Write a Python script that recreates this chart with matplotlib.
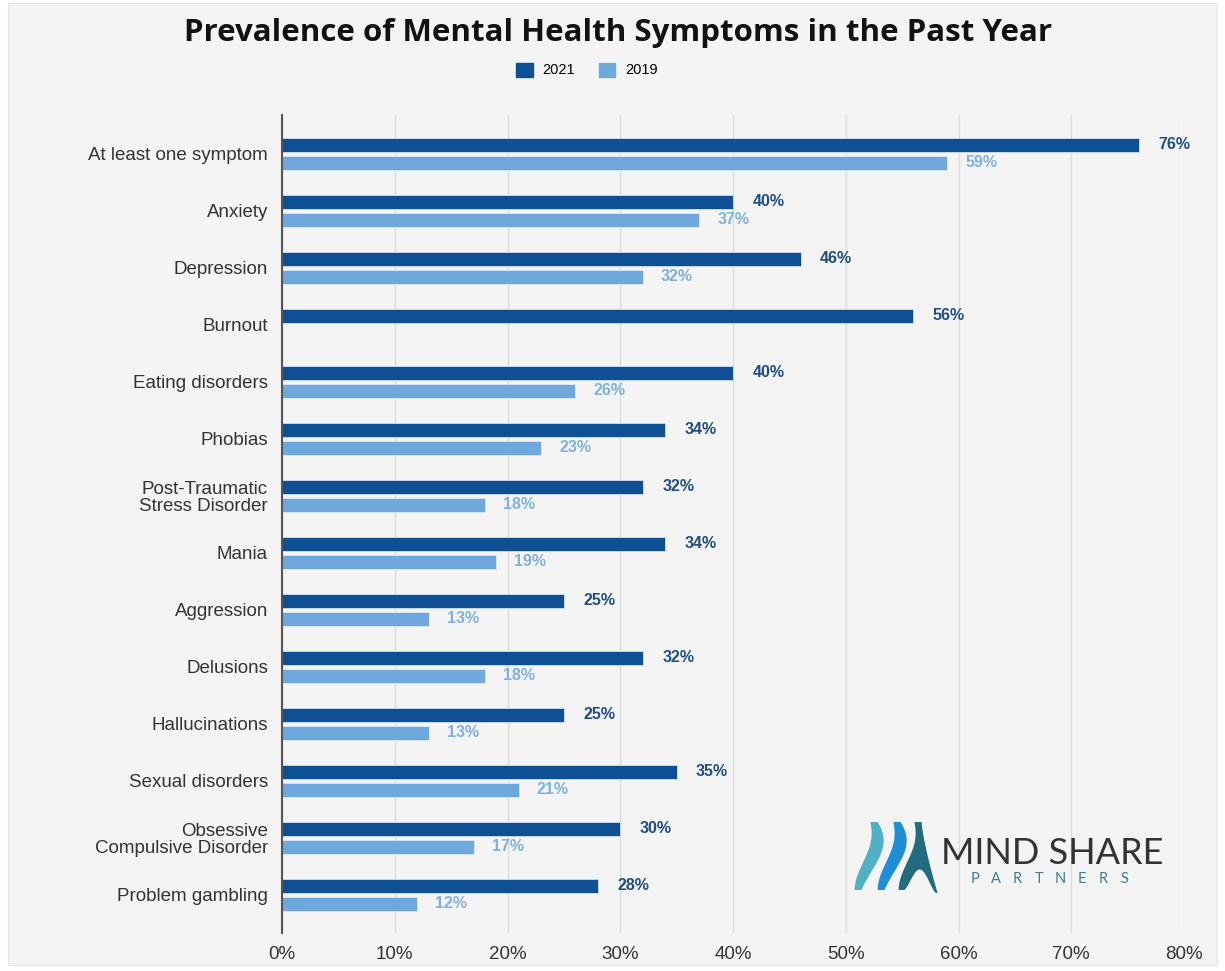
import numpy as np
import matplotlib.pyplot as plt
from matplotlib.patches import Rectangle, Polygon, Patch

categories = [
    "At least one symptom", "Anxiety", "Depression", "Burnout",
    "Eating disorders", "Phobias", "Post-Traumatic\nStress Disorder",
    "Mania", "Aggression", "Delusions", "Hallucinations",
    "Sexual disorders", "Obsessive\nCompulsive Disorder", "Problem gambling",
]
vals_2021 = [76, 40, 46, 56, 40, 34, 32, 34, 25, 32, 25, 35, 30, 28]
vals_2019 = [59, 37, 32, np.nan, 26, 23, 18, 19, 13, 18, 13, 21, 17, 12]
xticks = [0, 10, 20, 30, 40, 50, 60, 70, 80]

dark = "#0f4f93"
light = "#6fa8dc"
bg = "#f4f4f4"

W, H = 1225, 971
fig = plt.figure(figsize=(W / 100, H / 100), dpi=100, facecolor="white")
fig.patches.append(Rectangle((8 / W, 6 / H), 1209 / W, 962 / H, transform=fig.transFigure,
                             facecolor=bg, edgecolor="#e6e6e6", lw=0.8, zorder=-10))

ax = fig.add_axes([282 / W, 1 - 933 / H, 902 / W, 818 / H])
ax.set_facecolor(bg)

y = np.arange(len(categories))
bh = 0.25
off = 0.158
ax.barh(y - off, vals_2021, height=bh, color=dark, edgecolor="#cfe0f2", lw=0.6, label="2021", zorder=3)
ax.barh(y + off, vals_2019, height=bh, color=light, edgecolor="#d9e8f6", lw=0.6, label="2019", zorder=3)

for yi, v in zip(y, vals_2021):
    ax.annotate(f"{v:.0f}%", (v, yi - off), xytext=(14, 0), textcoords="offset points",
                va="center", ha="left", fontsize=11.5, fontweight="bold", color="#1f4e85",
                family="Liberation Sans")
for yi, v in zip(y, vals_2019):
    if np.isnan(v):
        continue
    ax.annotate(f"{v:.0f}%", (v, yi + off), xytext=(13, 0), textcoords="offset points",
                va="center", ha="left", fontsize=11.5, fontweight="bold", color="#7fb2e2",
                family="Liberation Sans")

ax.set_xlim(0, 80)
ax.set_ylim(len(categories) - 1 + 0.67, -0.68)
ax.set_xticks(xticks)
ax.set_xticklabels([f"{t}%" for t in xticks], fontsize=13.5, color="#333333", family="Liberation Sans")
ax.set_yticks(y)
ax.set_yticklabels(categories, fontsize=13.5, color="#333333", family="Liberation Sans",
                   linespacing=1.0)
ax.tick_params(axis="both", length=0)
ax.tick_params(axis="x", pad=9)
ax.tick_params(axis="y", pad=10)
ax.grid(axis="x", color="#dcdcdc", lw=1, zorder=0)
for s in ["top", "right", "bottom"]:
    ax.spines[s].set_visible(False)
ax.spines["left"].set_color("#555555")
ax.spines["left"].set_linewidth(1.5)
ax.spines["left"].set_zorder(4)

fig.text(618 / W, 1 - 33 / H, "Prevalence of Mental Health Symptoms in the Past Year",
         ha="center", va="center", fontsize=22.5, fontweight="bold", family="Open Sans", color="#111111")

handles = [Patch(color=dark, label="2021"), Patch(color=light, label="2019")]
fig.legend(handles=handles, loc="center", bbox_to_anchor=(587 / W, 1 - 70 / H), ncol=2,
           frameon=False, handlelength=1.1, handleheight=1.1,
           columnspacing=1.6, handletextpad=0.7, prop={"family": "Liberation Sans", "size": 10.5})

# logo in the lower right corner
lg = fig.add_axes([845 / W, 1 - 900 / H, 330 / W, 85 / H])
lg.set_xlim(845, 1175)
lg.set_ylim(900, 815)
lg.axis("off")

t = np.linspace(0, 1, 80)
yy = 822 + t * 68
profile = 3 + 11 * np.sin(np.pi * np.clip(t * 0.85 + 0.08, 0, 1)) ** 0.7
for x0, col in [(874, "#4fb0c6"), (897, "#1e8fd6")]:
    xc = x0 + 14 * np.sin(np.pi * t) * (1 - t) - 16 * t
    left = np.column_stack([xc - profile / 2, yy])
    right = np.column_stack([xc + profile / 2, yy])[::-1]
    lg.add_patch(Polygon(np.vstack([left, right]), closed=True, color=col, lw=0))

# third stroke flares into a tail at the bottom right
xc = 918 + 14 * np.sin(np.pi * t) * (1 - t) - 16 * t
left_edge = np.column_stack([xc - profile / 2, yy])
s = np.linspace(0, 1, 40)
right_edge = np.column_stack([xc[0] + profile[0] / 2 + 16 * s ** 1.3, 822 + 71 * s])
notch = np.column_stack([936 - 32 * s, 893 - 22 * np.sin(np.pi * s) ** 1.5 - 3 * s])
shape = np.vstack([right_edge, notch, left_edge[::-1]])
lg.add_patch(Polygon(shape, closed=True, color="#236b7f", lw=0))

lg.text(941, 853, "MIND SHARE", fontsize=26, family="Lato", color="#333333", va="center", ha="left")
for i, ch in enumerate("PARTNERS"):
    lg.text(975 + i * 21.3, 879, ch, fontsize=10.5, family="Lato", color="#3b7d90",
            va="center", ha="center")

fig.savefig("out.png", dpi=100, facecolor="white")
